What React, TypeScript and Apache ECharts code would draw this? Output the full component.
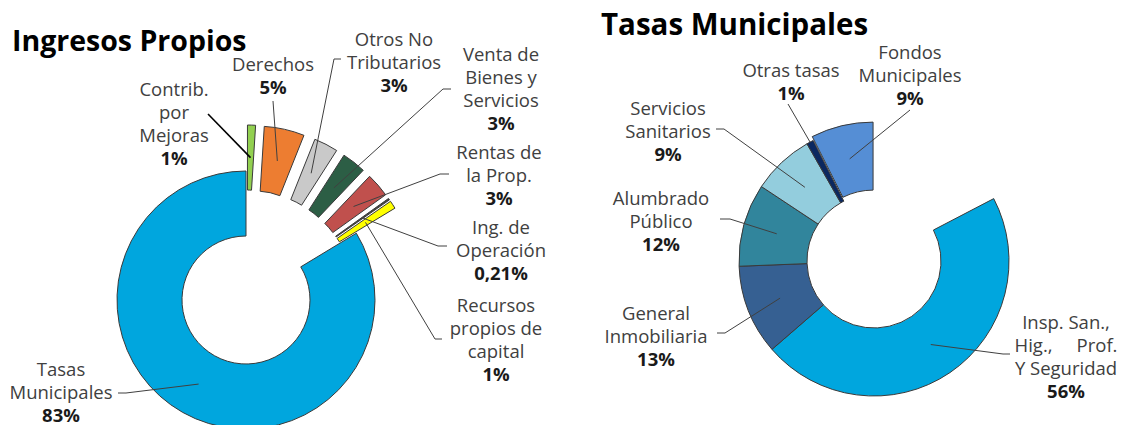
import React, { useEffect, useRef } from "react";
import * as echarts from "echarts";

// ---------- DATA ----------
const ingresosTitle = "Ingresos Propios";
const ingresosNames = [
  "Contrib.\npor\nMejoras",
  "Derechos",
  "Otros No\nTributarios",
  "Venta de\nBienes y\nServicios",
  "Rentas de\nla Prop.",
  "Ing. de\nOperación",
  "Recursos\npropios de\ncapital",
  "Tasas\nMunicipales",
];
const ingresosValues = [1, 5, 3, 3, 3, 0.21, 1, 83];
const ingresosExploded = [true, true, true, true, true, true, true, false];
const ingresosColors = ["#92D050", "#ED7D31", "#C9C9C9", "#2C5E45", "#C0504D", "#404040", "#FFFF00", "#00A6DE"];

const tasasTitle = "Tasas Municipales";
const tasasNames = [
  "Insp. San.,\nHig.,\u00A0\u00A0\u00A0\u00A0\u00A0Prof.\nY Seguridad",
  "General\nInmobiliaria",
  "Alumbrado\nPúblico",
  "Servicios\nSanitarios",
  "Otras tasas",
  "Fondos\nMunicipales",
];
const tasasValues = [56, 13, 12, 9, 1, 9];
const tasasGap = 21; // empty sector left blank at the top right of the ring
const tasasExploded = [false, false, false, false, false, true];
const tasasColors = ["#00A6DE", "#366092", "#31859C", "#93CDDD", "#0B2860", "#558ED5"];

// ---------- LAYOUT ----------
const FONT = '"Open Sans", "DejaVu Sans", sans-serif';
const LABEL_SIZE = 18.5;
const LINE_H = 23;
const LEFT = { cx: 246, cy: 300, rIn: 64, rOut: 129, offset: 46 };
const RIGHT = { cx: 874, cy: 261, rIn: 67, rOut: 135, offset: 4 };

type LabelPos = { x: number; y: number; line: number[][]; frac?: number; stroke?: string; width?: number };

const ingresosLabelPos: LabelPos[] = [
  { x: 174, y: 122.5, line: [[208, 114]], stroke: "#000000", width: 1.6 },
  { x: 273, y: 75, line: [[273, 101]] },
  { x: 394, y: 61, line: [[341, 59], [334, 59]] },
  { x: 501, y: 87.5, line: [[451, 89], [443, 89]] },
  { x: 499, y: 174.5, line: [[449, 174], [440, 174]] },
  { x: 501, y: 249, line: [[447, 246], [438, 246]] },
  { x: 496, y: 339, line: [[442, 339], [435, 339]] },
  { x: 61, y: 391, line: [[118, 393], [126, 393]] },
];

const tasasLabelPos: LabelPos[] = [
  { x: 1066, y: 356, line: [[1010, 354], [1003, 354]] },
  { x: 656, y: 335, line: [[717, 333], [725, 333]] },
  { x: 661, y: 220, line: [[720, 219], [730, 219]] },
  { x: 668, y: 130, line: [[716, 129], [724, 129]] },
  { x: 791, y: 81, line: [[788, 104]], frac: 1 },
  { x: 910, y: 74.5, line: [[910, 110]] },
];

function pctText(v: number) {
  return v < 1 ? v.toFixed(2).replace(".", ",") + "%" : Math.round(v) + "%";
}

function anchorPoint(
  values: number[],
  idx: number,
  geo: { cx: number; cy: number; rIn: number; rOut: number; offset: number },
  exploded: boolean,
  frac: number
) {
  const total = values.reduce((a, b) => a + b, 0);
  let cum = 0;
  for (let i = 0; i < idx; i++) cum += values[i];
  const mid = ((cum + values[idx] / 2) / total) * Math.PI * 2;
  const r = geo.rIn + (geo.rOut - geo.rIn) * frac + (exploded ? geo.offset : 0);
  return [geo.cx + r * Math.sin(mid), geo.cy - r * Math.cos(mid)];
}

function labelElements(names: string[], values: number[], pos: LabelPos[], anchorOf: (i: number, frac: number) => number[]) {
  const els: any[] = [];
  names.forEach((name, i) => {
    const p = pos[i];
    const lines = name.split("\n");
    const all = [...lines, pctText(values[i])];
    const n = all.length;
    all.forEach((t, k) => {
      const bold = k === n - 1;
      els.push({
        type: "text",
        x: p.x,
        y: p.y + (k - (n - 1) / 2) * LINE_H,
        z: 100,
        silent: true,
        style: {
          text: t,
          fill: bold ? "#1a1a1a" : "#404040",
          fontSize: LABEL_SIZE,
          fontFamily: FONT,
          fontWeight: bold ? "bold" : "normal",
          align: "center",
          verticalAlign: "middle",
        },
      });
    });
    const a = anchorOf(i, p.frac ?? 0.5);
    els.push({
      type: "polyline",
      z: 90,
      silent: true,
      shape: { points: [...p.line, a] },
      style: { stroke: p.stroke ?? "#404040", lineWidth: p.width ?? 1, fill: null },
    });
  });
  return els;
}

export default function App() {
  const ref = useRef<HTMLDivElement>(null);
  useEffect(() => {
    if (!ref.current) return;
    const chart = echarts.init(ref.current, undefined, { renderer: "svg" });

    const tasasAll = [tasasGap, ...tasasValues];

    const graphics = [
      {
        type: "text",
        x: 12,
        y: 40,
        z: 100,
        style: { text: ingresosTitle, fill: "#000", fontSize: 28.5, fontWeight: "bold", fontFamily: FONT, align: "left", verticalAlign: "middle" },
      },
      {
        type: "text",
        x: 601,
        y: 23,
        z: 100,
        style: { text: tasasTitle, fill: "#000", fontSize: 29.5, fontWeight: "bold", fontFamily: FONT, align: "left", verticalAlign: "middle" },
      },
      ...labelElements(ingresosNames, ingresosValues, ingresosLabelPos, (i, f) =>
        anchorPoint(ingresosValues, i, LEFT, ingresosExploded[i], f)
      ),
      ...labelElements(tasasNames, tasasValues, tasasLabelPos, (i, f) =>
        anchorPoint(tasasAll, i + 1, RIGHT, tasasExploded[i], f)
      ),
    ];

    chart.setOption({
      animation: false,
      backgroundColor: "#ffffff",
      series: [
        {
          type: "pie",
          center: [LEFT.cx, LEFT.cy],
          radius: [LEFT.rIn, LEFT.rOut],
          startAngle: 90,
          clockwise: true,
          selectedMode: "multiple",
          selectedOffset: LEFT.offset,
          avoidLabelOverlap: false,
          label: { show: false },
          labelLine: { show: false },
          emphasis: { disabled: true },
          itemStyle: { borderColor: "#3a3a3a", borderWidth: 1 },
          data: ingresosValues.map((v, i) => ({
            name: ingresosNames[i].replace(/\n/g, " "),
            value: v,
            selected: ingresosExploded[i],
            itemStyle: { color: ingresosColors[i] },
          })),
        },
        {
          type: "pie",
          center: [RIGHT.cx, RIGHT.cy],
          radius: [RIGHT.rIn, RIGHT.rOut],
          startAngle: 90,
          clockwise: true,
          selectedMode: "multiple",
          selectedOffset: RIGHT.offset,
          avoidLabelOverlap: false,
          label: { show: false },
          labelLine: { show: false },
          emphasis: { disabled: true },
          itemStyle: { borderColor: "#3a3a3a", borderWidth: 1 },
          data: [
            { name: "", value: tasasGap, itemStyle: { color: "rgba(0,0,0,0)", borderWidth: 0 } },
            ...tasasValues.map((v, i) => ({
              name: tasasNames[i].replace(/\n/g, " "),
              value: v,
              selected: tasasExploded[i],
              itemStyle: { color: tasasColors[i] },
            })),
          ],
        },
      ],
      graphic: { elements: graphics },
    });
    return () => chart.dispose();
  }, []);
  return <div ref={ref} style={{ position: "fixed", left: 0, top: 0, width: 1122, height: 425 }} />;
}
